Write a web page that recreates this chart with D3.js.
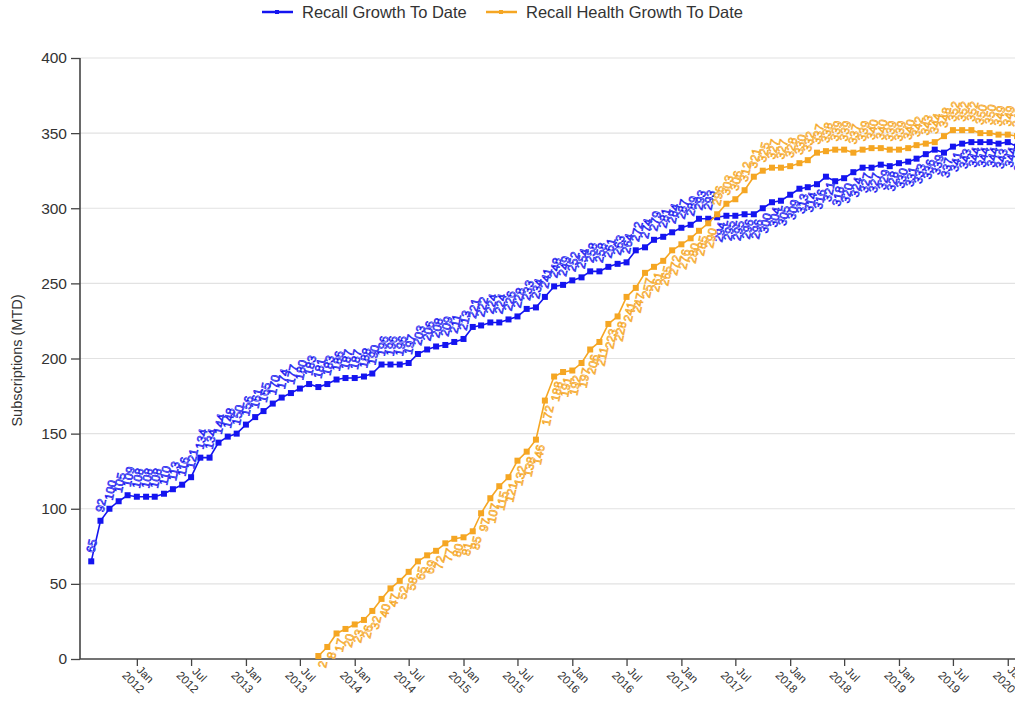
<!DOCTYPE html>
<html>
<head>
<meta charset="utf-8">
<script src="https://cdnjs.cloudflare.com/ajax/libs/d3/7.8.5/d3.min.js"></script>
<style>
  body { margin: 0; background: #fff; }
  text { font-family: "Liberation Sans", Arial, sans-serif; }
</style>
</head>
<body>
<svg id="chart" width="1015" height="704"></svg>
<script>
// monthly points, first one is Aug 2011
var firstMonth = new Date(2011, 7, 1);
var seriesNames = ['Recall Growth To Date', 'Recall Health Growth To Date'];
var seriesColors = ['#1414f0', '#f5a623'];

var recallGrowth = [65, 92, 100, 105, 109, 108, 108, 108, 110, 113, 116, 121, 134, 134, 144, 148,
  150, 156, 161, 165, 170, 174, 177, 180, 183, 181, 183, 186, 187, 187, 188, 190, 196, 196, 196, 197,
  203, 206, 208, 209, 211, 213, 221, 222, 224, 224, 226, 228, 233, 234, 241, 248, 249, 252, 254, 258,
  258, 261, 263, 264, 272, 274, 279, 281, 284, 287, 289, 293, 293, 294, 295, 295, 296, 296, 300, 304,
  305, 309, 313, 314, 316, 321, 318, 320, 324, 327, 327, 329, 328, 330, 331, 333, 336, 339, 337, 341,
  343, 344, 344, 344, 343, 344, 341];

var recallHealth = [null, null, null, null, null, null, null, null, null, null, null, null, null,
  null, null, null, null, null, null, null, null, null, null, null, null,
  2, 8, 17, 20, 23, 26, 32, 40, 47, 52, 58, 65, 69, 72, 77, 80, 81, 85, 97, 107, 115, 121, 132, 138,
  146, 172, 188, 191, 192, 197, 206, 211, 223, 228, 241, 247, 257, 261, 265, 272, 276, 280, 285, 290,
  296, 303, 306, 312, 321, 325, 327, 327, 328, 330, 332, 337, 338, 339, 339, 337, 339, 340, 340, 339,
  339, 340, 342, 343, 344, 348, 352, 352, 352, 350, 350, 349, 349, 348];

var yTicks = [0, 50, 100, 150, 200, 250, 300, 350, 400];
var monthNames = ['Jan', 'Jul'];

var months = recallGrowth.map(function(v, i) { return d3.timeMonth.offset(firstMonth, i); });

var svg = d3.select('#chart');
var plotLeft = 80, plotTop = 58, plotBottom = 659, plotRight = 1015;

var x = d3.scaleTime()
  .domain([new Date(2011, 6, 1), new Date(2020, 1, 1)])
  .range([82, 1017]);
var y = d3.scaleLinear().domain([0, 400]).range([plotBottom, plotTop]);

// grid
svg.append('g').selectAll('line')
  .data(yTicks.slice(1))
  .enter().append('line')
  .attr('x1', plotLeft).attr('x2', plotRight)
  .attr('y1', function(d) { return y(d); })
  .attr('y2', function(d) { return y(d); })
  .attr('stroke', '#e2e2e2')
  .attr('stroke-width', 1.2);

// y axis
var yAxis = svg.append('g')
  .attr('transform', 'translate(' + plotLeft + ',0)')
  .call(d3.axisLeft(y).tickValues(yTicks).tickSize(9).tickPadding(4));
yAxis.selectAll('text').style('font-size', '15.5px').attr('fill', '#333');
yAxis.selectAll('line').attr('stroke', '#444').attr('stroke-width', 1.3);
yAxis.select('.domain').attr('stroke', '#444').attr('stroke-width', 1.6)
  .attr('d', 'M0,' + plotTop + 'V' + plotBottom);

svg.append('text')
  .attr('transform', 'translate(22,' + ((plotTop + plotBottom) / 2 + 2) + ') rotate(-90)')
  .attr('text-anchor', 'middle')
  .style('font-size', '14.5px')
  .attr('fill', '#333')
  .text('Subscriptions (MTD)');

// x axis
var xTickDates = d3.timeMonth.every(6).range(new Date(2012, 0, 1), new Date(2020, 1, 2));
var xAxis = svg.append('g')
  .attr('transform', 'translate(0,' + plotBottom + ')')
  .call(d3.axisBottom(x).tickValues(xTickDates).tickSize(7).tickFormat(''));
xAxis.select('.domain').attr('stroke', '#444').attr('stroke-width', 1.6)
  .attr('d', 'M' + plotLeft + ',0H' + plotRight);
xAxis.selectAll('line').attr('stroke', '#444').attr('stroke-width', 1.3);

var xLabels = svg.append('g').selectAll('g')
  .data(xTickDates)
  .enter().append('g')
  .attr('transform', function(d) { return 'translate(' + x(d) + ',' + (plotBottom + 7) + ') rotate(45)'; });
xLabels.append('text')
  .attr('x', 12).attr('y', 4)
  .attr('text-anchor', 'middle')
  .style('font-size', '11.5px').attr('fill', '#333')
  .text(function(d) { return monthNames[d.getMonth() === 0 ? 0 : 1]; });
xLabels.append('text')
  .attr('x', 9).attr('y', 18)
  .attr('text-anchor', 'middle')
  .style('font-size', '11.5px').attr('fill', '#333')
  .text(function(d) { return d.getFullYear(); });

// series
var series = [recallGrowth, recallHealth];
var line = d3.line()
  .defined(function(d) { return d.v != null; })
  .x(function(d) { return x(d.date); })
  .y(function(d) { return y(d.v); });

series.forEach(function(values, s) {
  var other = series[1 - s];
  var pts = values.map(function(v, i) {
    var o = other[i];
    // label on the side away from the other series
    var above = (o == null) ? true : (v >= o);
    return { date: months[i], v: v, above: above };
  });
  var g = svg.append('g');
  g.append('path')
    .datum(pts)
    .attr('fill', 'none')
    .attr('stroke', seriesColors[s])
    .attr('stroke-width', 1.6)
    .attr('d', line);

  var p = pts.filter(function(d) { return d.v != null; });
  g.selectAll('rect')
    .data(p)
    .enter().append('rect')
    .attr('x', function(d) { return x(d.date) - 3; })
    .attr('y', function(d) { return y(d.v) - 3; })
    .attr('width', 6).attr('height', 6)
    .attr('fill', seriesColors[s]);

  g.selectAll('text')
    .data(p)
    .enter().append('text')
    .attr('transform', function(d) {
      var px = x(d.date), py = y(d.v);
      return d.above
        ? 'translate(' + (px + 3) + ',' + (py - 8) + ') rotate(-78)'
        : 'translate(' + (px + 9) + ',' + (py + 6) + ') rotate(-78)';
    })
    .attr('text-anchor', function(d) { return d.above ? 'start' : 'end'; })
    .style('font-size', '12px')
    .attr('fill', '#fff')
    .attr('stroke', seriesColors[s])
    .attr('stroke-width', 0.7)
    .text(function(d) { return d.v; });
});

// legend
var legendX = [262, 486];
var legend = svg.append('g').selectAll('g')
  .data(seriesNames)
  .enter().append('g')
  .attr('transform', function(d, i) { return 'translate(' + legendX[i] + ',12)'; });
legend.append('line')
  .attr('x1', 0).attr('x2', 31)
  .attr('stroke', function(d, i) { return seriesColors[i]; })
  .attr('stroke-width', 2.5);
legend.append('rect')
  .attr('x', 13).attr('y', -2).attr('width', 4).attr('height', 4)
  .attr('fill', function(d, i) { return seriesColors[i]; });
legend.append('text')
  .attr('x', 40).attr('y', 6)
  .style('font-size', '16.5px')
  .attr('fill', '#333')
  .text(function(d) { return d; });
</script>
</body>
</html>
